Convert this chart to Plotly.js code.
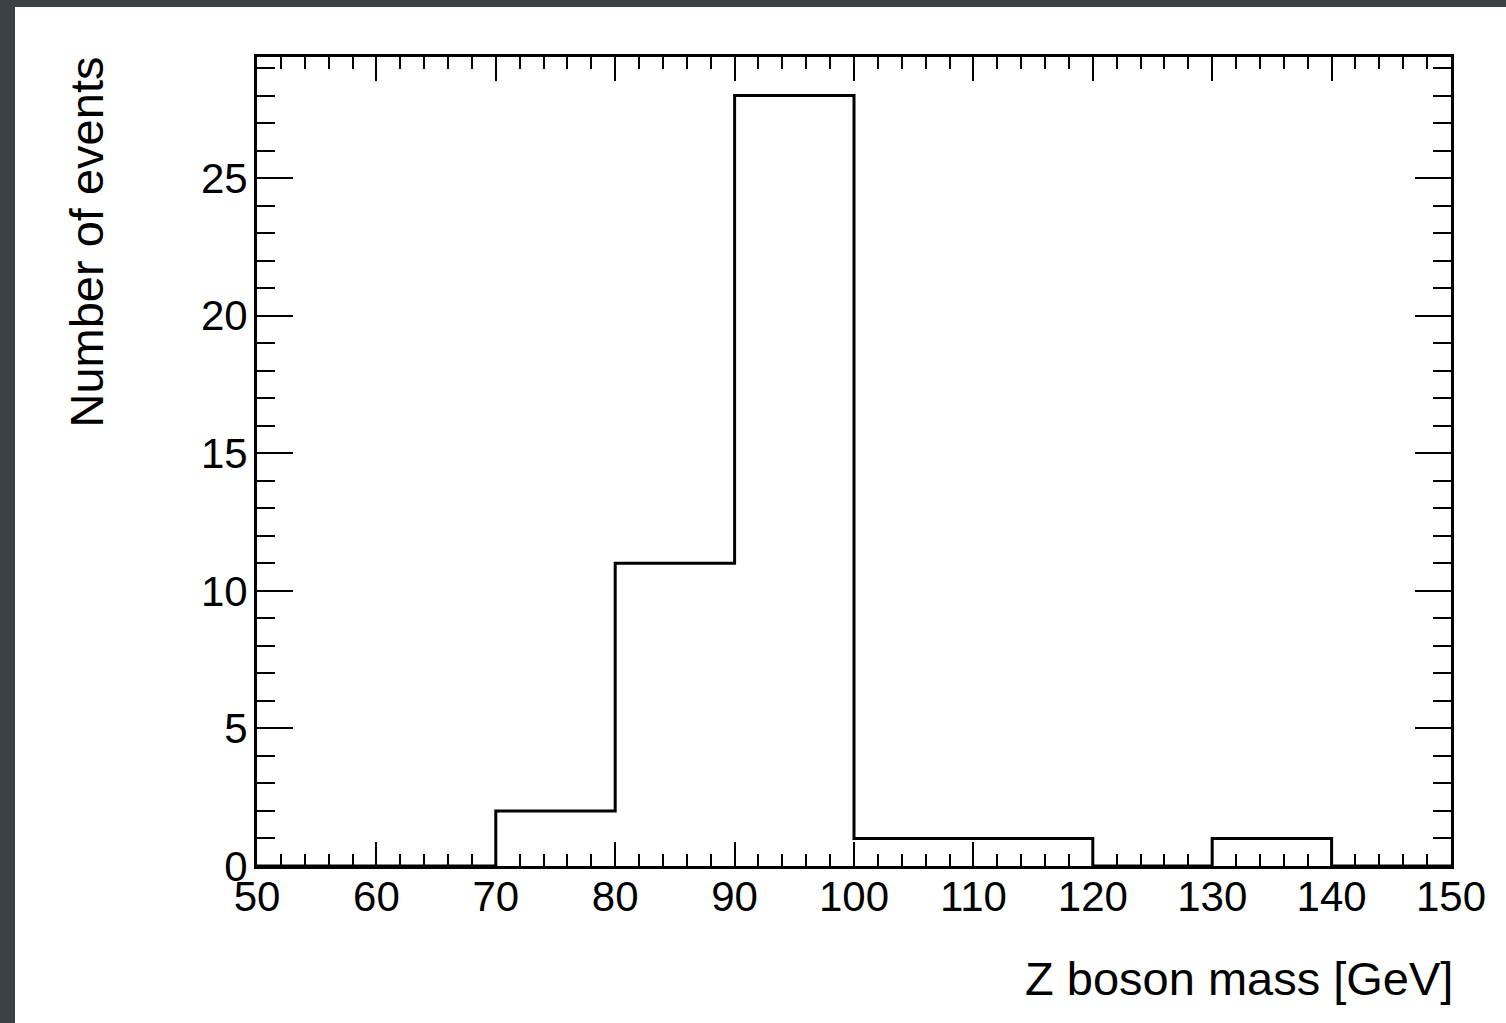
<!DOCTYPE html>
<html>
<head>
<meta charset="utf-8">
<script src="https://cdn.plot.ly/plotly-3.0.1.min.js"></script>
<style>
html,body{margin:0;padding:0;width:1506px;height:1023px;overflow:hidden;background:#3a4245;}
#chart{position:absolute;left:15px;top:7px;width:1491px;height:1016px;background:#fff;}
</style>
</head>
<body>
<div id="chart"></div>
<script>
// Histogram bin edges (GeV) and counts
const binEdges = [50, 60, 70, 80, 90, 100, 110, 120, 130, 140, 150];
const binCounts = [0, 0, 2, 11, 28, 1, 1, 0, 1, 0];
const xTickValues = [50, 60, 70, 80, 90, 100, 110, 120, 130, 140, 150];
const yTickValues = [0, 5, 10, 15, 20, 25];
const xTitle = 'Z boson mass [GeV]';
const yTitle = 'Number of events';

// step outline: repeat last count for final edge
const stepY = binCounts.concat([binCounts[binCounts.length - 1]]);

const trace = {
  x: binEdges,
  y: stepY,
  type: 'scatter',
  mode: 'lines',
  line: {shape: 'hv', color: '#000', width: 3},
  hoverinfo: 'x+y'
};

const tickFont = {family: 'Liberation Sans, Arial, Helvetica, sans-serif', size: 42, color: '#000'};
const titleFont = {family: 'Liberation Sans, Arial, Helvetica, sans-serif', size: 47, color: '#000'};

const layout = {
  width: 1491,
  height: 1016,
  paper_bgcolor: '#fff',
  plot_bgcolor: '#fff',
  margin: {l: 242, r: 55, t: 50, b: 157},
  showlegend: false,
  xaxis: {
    range: [50, 150],
    tickvals: xTickValues,
    ticktext: xTickValues.map(String),
    ticks: 'inside',
    ticklen: 24,
    tickwidth: 2,
    tickcolor: '#000',
    showline: true,
    linecolor: '#000',
    linewidth: 3,
    mirror: 'ticks',
    showgrid: false,
    zeroline: false,
    tickfont: tickFont,
    ticklabelstandoff: -8,
    minor: {dtick: 2, tick0: 50, ticks: 'inside', ticklen: 12, tickwidth: 2, tickcolor: '#000', showgrid: false}
  },
  yaxis: {
    range: [0, 29.4],
    tickvals: yTickValues,
    ticktext: yTickValues.map(String),
    ticks: 'inside',
    ticklen: 36,
    tickwidth: 2,
    tickcolor: '#000',
    showline: true,
    linecolor: '#000',
    linewidth: 3,
    mirror: 'ticks',
    showgrid: false,
    zeroline: false,
    tickfont: tickFont,
    ticklabelstandoff: -2,
    minor: {dtick: 1, tick0: 0, ticks: 'inside', ticklen: 18, tickwidth: 2, tickcolor: '#000', showgrid: false}
  },
  annotations: [
    {
      text: xTitle, xref: 'paper', yref: 'paper', x: 1, y: 0,
      xanchor: 'right', yanchor: 'middle', yshift: -112, xshift: 4,
      showarrow: false, font: titleFont
    },
    {
      text: yTitle, xref: 'paper', yref: 'paper', x: 0, y: 1,
      xanchor: 'center', yanchor: 'top', xshift: -171, yshift: 2, textangle: -90,
      showarrow: false, font: titleFont
    }
  ]
};

Plotly.newPlot('chart', [trace], layout, {displayModeBar: false, staticPlot: false});
</script>
</body>
</html>
